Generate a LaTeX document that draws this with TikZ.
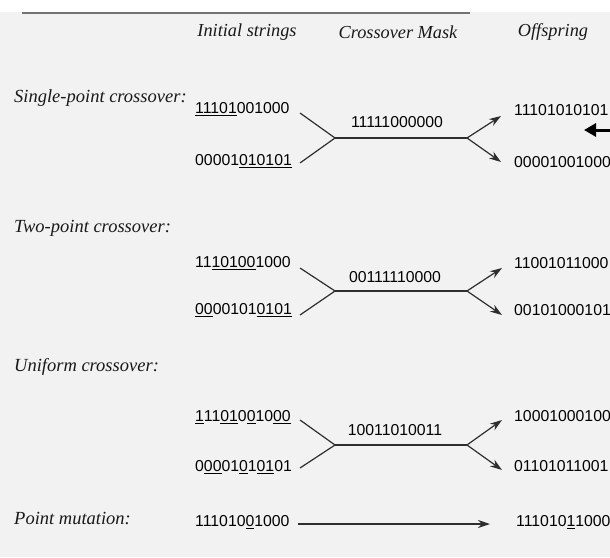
\documentclass[tikz,border=0pt]{standalone}
\usepackage{fontspec}
\setmainfont{Liberation Serif}
\newfontfamily\bitfont{Liberation Sans}
\usepackage{tikz}
\usetikzlibrary{positioning, arrows.meta}
\usepackage{xcolor}

\definecolor{pagegray}{HTML}{F2F2F2}
\definecolor{inkgray}{HTML}{2E2E2E}

\begin{document}
\begin{tikzpicture}[x=1pt, y=-1pt, every node/.style={inner sep=2pt}]
  \tikzstyle{heading} = [font=\fontsize{18.3}{18}\selectfont\itshape, text=black!90]
  \tikzstyle{kind} = [font=\fontsize{18.5}{18}\selectfont\itshape, anchor=west, text=black!90]
  \tikzstyle{bits} = [font=\bitfont\fontsize{15.8}{16}\selectfont, anchor=west, text=black]
  \tikzstyle{mask} = [font=\bitfont\fontsize{15.8}{16}\selectfont, text=black]
  \tikzstyle{leg} = [inkgray, line width=1.2pt]
  \tikzstyle{arrow} = [inkgray, line width=1.2pt, -{Stealth[length=12pt,width=8pt]}]

  % page
  \useasboundingbox (0,0) rectangle (610,557);
  \fill[white] (0,0) rectangle (610,557);
  \fill[pagegray] (0,12) rectangle (610,557);
  \draw[black!55, line width=2pt] (22,13) -- (470,13);

  % column heads
  \node (hinit) [heading] at (247,32) {Initial strings};
  \node (hmask) [heading] at (398,32) {Crossover Mask};
  \node (hoff) [heading] at (553,32) {Offspring};

  % single-point
  \node (kone) [kind] at (12,98) {Single-point crossover:};
  \node (aone) [bits] at (193,109) {\underline{11101}001000};
  \node (bone) [bits] at (193,161) {00001\underline{010101}};
  \node (mone) [mask] at (397,122) {11111000000};
  \node (cone) [bits] at (512,110) {11101010101};
  \node (done) [bits] at (512,162) {00001001000};
  \coordinate (lone) at (335,138);
  \coordinate (rone) at (467,138);
  \draw [leg] (300,113) -- (lone);
  \draw [leg] (300,163) -- (lone);
  \draw [leg] (lone) -- (rone);
  \draw [arrow] (rone) -- (501,116);
  \draw [arrow] (rone) -- (501,162);

  % margin mark
  \coordinate (mfrom) at (612,130);
  \coordinate (mto) at (584,130);
  \draw [black, line width=3pt, -{Triangle[length=12pt,width=13pt]}] (mfrom) -- (mto);

  % two-point
  \node (ktwo) [kind] at (12,228) {Two-point crossover:};
  \node (atwo) [bits] at (193,263) {11\underline{10100}1000};
  \node (btwo) [bits] at (193,310) {\underline{00}00101\underline{0101}};
  \node (mtwo) [mask] at (395,277) {00111110000};
  \node (ctwo) [bits] at (512,263) {11001011000};
  \node (dtwo) [bits] at (512,310) {00101000101};
  \coordinate (ltwo) at (335,291);
  \coordinate (rtwo) at (467,291);
  \draw [leg] (300,268) -- (ltwo);
  \draw [leg] (300,315) -- (ltwo);
  \draw [leg] (ltwo) -- (rtwo);
  \draw [arrow] (rtwo) -- (502,268);
  \draw [arrow] (rtwo) -- (502,315);

  % uniform
  \node (kuni) [kind] at (12,367) {Uniform crossover:};
  \node (auni) [bits] at (193,417) {\underline{1}11\underline{01}0\underline{0}10\underline{00}};
  \node (buni) [bits] at (193,467) {0\underline{00}01\underline{0}1\underline{01}01};
  \node (muni) [mask] at (395,430) {10011010011};
  \node (cuni) [bits] at (512,416) {10001000100};
  \node (duni) [bits] at (512,466) {01101011001};
  \coordinate (luni) at (335,445);
  \coordinate (runi) at (467,445);
  \draw [leg] (300,420) -- (luni);
  \draw [leg] (300,468) -- (luni);
  \draw [leg] (luni) -- (runi);
  \draw [arrow] (runi) -- (502,420);
  \draw [arrow] (runi) -- (502,470);

  % point mutation
  \node (kmut) [kind] at (12,518) {Point mutation:};
  \node (amut) [bits] at (193,522) {111010\underline{0}1000};
  \node (cmut) [bits] at (514,522) {111010\underline{1}1000};
  \draw [arrow] ([xshift=6pt,yshift=-2pt]amut.east) -- ([xshift=-24pt,yshift=-2pt]cmut.west);
\end{tikzpicture}
\end{document}
